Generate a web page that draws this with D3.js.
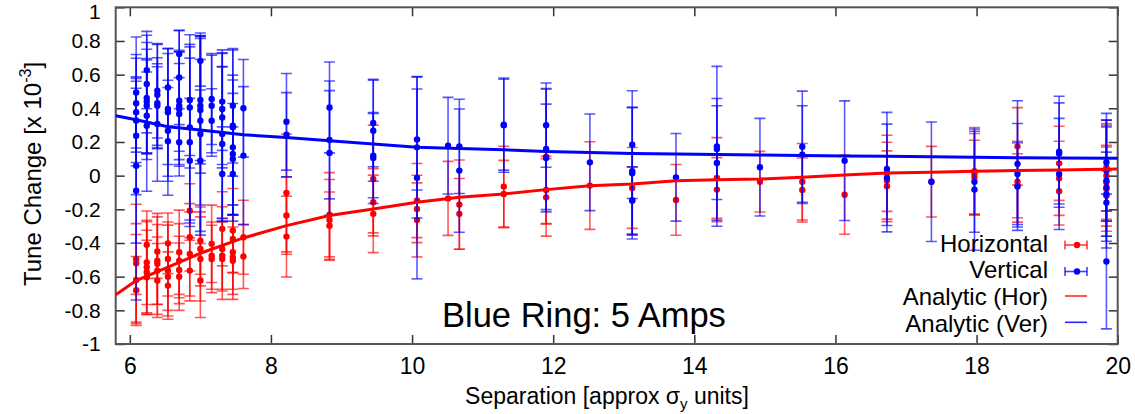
<!DOCTYPE html>
<html><head><meta charset="utf-8">
<script src="https://cdn.jsdelivr.net/npm/d3@7"></script>
<style>body{margin:0;background:#fff}text{font-family:"Liberation Sans",Arial,sans-serif;fill:#000}</style>
</head><body><svg id="c" width="1135" height="414"></svg>
<script>
// [x, value, error]  (x 10^-3)
const horPoints = [
[6.09,-0.495,0.21],[6.09,-0.52,0.35],[6.09,-0.62,0.27],[6.09,-0.68,0.2],
[6.24,-0.41,0.2],[6.24,-0.515,0.25],[6.24,-0.544,0.27],[6.24,-0.574,0.25],[6.24,-0.604,0.22],
[6.39,-0.45,0.16],[6.39,-0.505,0.26],[6.39,-0.524,0.3],[6.39,-0.564,0.2],[6.39,-0.623,0.22],
[6.54,-0.402,0.18],[6.54,-0.495,0.22],[6.54,-0.564,0.27],[6.54,-0.6,0.2],[6.54,-0.653,0.2],
[6.70,-0.455,0.25],[6.70,-0.505,0.22],[6.70,-0.56,0.2],[6.70,-0.6,0.2],
[6.85,-0.208,0.16],[6.85,-0.366,0.2],[6.85,-0.465,0.25],[6.85,-0.564,0.18],
[7.00,-0.386,0.2],[7.00,-0.435,0.22],[7.00,-0.495,0.25],[7.00,-0.623,0.22],
[7.16,-0.405,0.23],[7.16,-0.475,0.2],[7.16,-0.495,0.2],
[7.31,-0.316,0.22],[7.31,-0.435,0.25],[7.31,-0.475,0.2],[7.31,-0.495,0.24],
[7.46,-0.326,0.25],[7.46,-0.376,0.2],[7.46,-0.455,0.22],[7.46,-0.485,0.25],[7.46,-0.505,0.2],
[7.61,-0.366,0.22],[7.61,-0.48,0.19],
[8.22,-0.103,0.35],[8.22,-0.237,0.23],[8.22,-0.362,0.24],
[8.83,-0.232,0.25],[8.83,-0.263,0.24],[8.83,-0.297,0.2],
[9.45,-0.02,0.32],[9.45,-0.158,0.2],[9.45,-0.227,0.23],
[10.07,-0.148,0.22],[10.07,-0.198,0.2],[10.07,-0.263,0.22],
[10.51,-0.135,0.22],
[10.67,-0.172,0.265],[10.67,-0.227,0.21],
[11.30,-0.065,0.24],[11.30,-0.109,0.2],
[11.90,0.113,0.4],[11.90,-0.085,0.2],[11.90,-0.129,0.23],
[12.52,-0.059,0.26],
[13.12,-0.073,0.24],[13.12,-0.148,0.2],
[13.74,-0.144,0.21],
[14.32,-0.014,0.24],[14.32,-0.083,0.19],
[14.93,-0.036,0.18],
[15.53,-0.036,0.227],[15.53,-0.085,0.19],
[16.13,-0.113,0.235],
[16.73,0.014,0.226],[16.73,-0.03,0.228],[16.73,-0.063,0.21],
[17.36,-0.036,0.21],
[17.97,0.026,0.26],[17.97,0.01,0.24],[17.97,-0.01,0.22],
[18.58,0.174,0.23],[18.58,-0.036,0.24],[18.58,-0.06,0.19],
[19.17,0.073,0.22],[19.17,-0.016,0.22],[19.17,-0.093,0.2],
[19.84,0.05,0.26],[19.84,0.0,0.3],[19.84,-0.04,0.22],[19.84,-0.08,0.25],[19.84,-0.12,0.15]
];
const verPoints = [
[6.09,0.494,0.33],[6.09,0.43,0.29],[6.09,0.377,0.32],[6.09,0.328,0.25],[6.09,0.237,0.35],[6.09,0.059,0.46],[6.09,-0.089,0.65],
[6.24,0.627,0.23],[6.24,0.544,0.29],[6.24,0.461,0.33],[6.24,0.441,0.31],[6.24,0.415,0.28],[6.24,0.356,0.26],[6.24,0.297,0.39],
[6.39,0.504,0.28],[6.39,0.48,0.3],[6.39,0.43,0.27],[6.39,0.415,0.25],[6.39,0.307,0.34],
[6.54,0.524,0.23],[6.54,0.396,0.33],[6.54,0.376,0.38],[6.54,0.267,0.3],[6.54,0.204,0.32],
[6.70,0.722,0.14],[6.70,0.583,0.28],[6.70,0.445,0.3],[6.70,0.415,0.32],[6.70,0.396,0.34],[6.70,0.366,0.3],[6.70,0.198,0.2],
[6.85,0.45,0.33],[6.85,0.405,0.36],[6.85,0.287,0.55],[6.85,0.198,0.5],[6.85,0.089,0.37],
[7.00,0.682,0.15],[7.00,0.45,0.38],[7.00,0.415,0.4],[7.00,0.39,0.3],[7.00,0.326,0.5],[7.00,0.247,0.6],[7.00,0.089,0.42],
[7.16,0.455,0.27],[7.16,0.415,0.3],[7.16,0.326,0.19],
[7.31,0.44,0.29],[7.31,0.396,0.33],[7.31,0.346,0.3],[7.31,0.247,0.5],[7.31,0.188,0.46],[7.31,0.01,0.28],
[7.46,0.415,0.34],[7.46,0.297,0.3],[7.46,0.287,0.46],[7.46,0.168,0.4],[7.46,0.129,0.36],[7.46,0.099,0.33],[7.46,0.01,0.28],
[7.61,0.40,0.29],[7.61,0.119,0.41],
[8.22,0.32,0.287],[8.22,0.243,0.25],
[8.83,0.405,0.27],[8.83,0.212,0.35],[8.83,0.135,0.37],
[9.45,0.313,0.26],[9.45,0.267,0.3],[9.45,0.119,0.25],[9.45,0.105,0.27],
[10.07,0.215,0.3],[10.07,0.168,0.42],[10.07,-0.013,0.6],
[10.51,0.178,0.287],
[10.67,0.174,0.28],[10.67,0.03,0.366],
[11.30,0.303,0.27],[11.30,0.30,0.28],
[11.90,0.30,0.25],[11.90,0.158,0.36],[11.90,0.105,0.32],
[12.52,0.079,0.287],
[13.12,0.184,0.32],[13.12,0.026,0.38],[13.12,0.014,0.39],[13.12,-0.148,0.2],
[13.74,-0.01,0.26],
[14.32,0.174,0.475],[14.32,0.158,0.3],[14.32,0.075,0.34],
[14.93,0.05,0.29],
[15.53,0.172,0.33],[15.53,0.125,0.29],
[16.13,0.089,0.355],
[16.73,0.04,0.336],[16.73,-0.014,0.32],
[17.36,-0.036,0.355],
[17.97,-0.036,0.3],[17.97,-0.083,0.36],
[18.58,0.07,0.375],[18.58,0.01,0.3],[18.58,-0.065,0.26],
[19.17,0.142,0.33],[19.17,0.132,0.3],[19.17,0.01,0.33],
[19.84,0.08,0.29],[19.84,0.03,0.3],[19.84,-0.03,0.36],[19.84,-0.07,0.36],[19.84,-0.11,0.25],[19.84,-0.16,0.2],[19.84,-0.51,0.4]
];
const anaX   = [5.8,6.09,6.54,7.0,7.61,8.22,8.83,9.45,10.07,10.67,11.30,11.90,12.52,13.12,13.74,14.32,14.93,15.53,16.13,16.73,17.36,17.97,18.58,19.17,20.0];
const anaHor = [-0.708,-0.623,-0.544,-0.461,-0.37,-0.297,-0.237,-0.198,-0.158,-0.129,-0.109,-0.083,-0.06,-0.049,-0.03,-0.024,-0.02,-0.01,0.004,0.016,0.02,0.026,0.03,0.034,0.04];
const anaVer = [0.356,0.332,0.29,0.271,0.243,0.227,0.208,0.188,0.168,0.162,0.154,0.144,0.138,0.132,0.129,0.125,0.123,0.12,0.117,0.115,0.113,0.11,0.107,0.105,0.103];
const xTicks = [6,8,10,12,14,16,18,20];
const yTicks = [-1,-0.8,-0.6,-0.4,-0.2,0,0.2,0.4,0.6,0.8,1];
const legendLabels = ["Horizontal","Vertical","Analytic (Hor)","Analytic (Ver)"];
const RED = "#ff0000", BLUE = "#0000ff";

const svg = d3.select("#c");
const L = 115.7, R = 1117.7, T = 7.3, B = 344;
const x = d3.scaleLinear().domain([5.8,20]).range([L,R]);
const y = d3.scaleLinear().domain([-1,1]).range([B,T]);

// axes (inward ticks, mirrored)
const fmt = d => String(+d.toFixed(1));
const gB = svg.append("g").attr("transform",`translate(0,${B})`)
  .call(d3.axisBottom(x).tickValues(xTicks).tickSize(-9).tickPadding(14).tickFormat(d=>String(d)));
const gT = svg.append("g").attr("transform",`translate(0,${T})`)
  .call(d3.axisTop(x).tickValues(xTicks).tickSize(-9).tickFormat(""));
const gL = svg.append("g").attr("transform",`translate(${L},0)`)
  .call(d3.axisLeft(y).tickValues(yTicks).tickSize(-9).tickPadding(15).tickFormat(fmt));
const gR = svg.append("g").attr("transform",`translate(${R},0)`)
  .call(d3.axisRight(y).tickValues(yTicks).tickSize(-9).tickFormat(""));
[gB,gT,gL,gR].forEach(g=>{
  g.select(".domain").remove();
  g.selectAll(".tick line").attr("stroke","#333").attr("stroke-width",1.5);
});
gB.selectAll(".tick text").attr("font-size",23).attr("font-family","Liberation Sans, Arial, sans-serif").attr("fill","#000");
gL.selectAll(".tick text").attr("font-size",21).attr("font-family","Liberation Sans, Arial, sans-serif").attr("fill","#000");
gL.selectAll(".tick text").filter(d=>d===1).attr("dy","0.52em");
svg.append("rect").attr("x",L).attr("y",T).attr("width",R-L).attr("height",B-T)
  .attr("fill","none").attr("stroke","#555").attr("stroke-width",2);

const clip = svg.append("defs").append("clipPath").attr("id","cp")
  .append("rect").attr("x",L).attr("y",T).attr("width",R-L).attr("height",B-T);
const plot = svg.append("g").attr("clip-path","url(#cp)");

function drawSeries(data,color){
  const g = plot.append("g");
  const cap = 5.5;
  data.forEach(([px,v,e])=>{
    const cx = x(px), y1 = y(v+e), y2 = y(v-e);
    g.append("line").attr("x1",cx).attr("x2",cx).attr("y1",y1).attr("y2",y2)
      .attr("stroke",color).attr("stroke-width",1.6).attr("stroke-opacity",0.65);
    [y1,y2].forEach(yy=>g.append("line").attr("x1",cx-cap).attr("x2",cx+cap).attr("y1",yy).attr("y2",yy)
      .attr("stroke",color).attr("stroke-width",1.6).attr("stroke-opacity",0.65));
  });
  g.selectAll("circle").data(data).join("circle")
    .attr("cx",d=>x(d[0])).attr("cy",d=>y(d[1])).attr("r",3.2).attr("fill",color);
}
drawSeries(horPoints,RED);
drawSeries(verPoints,BLUE);

const line = vals => d3.line().x((d,i)=>x(anaX[i])).y(d=>y(d))(vals);
plot.append("path").attr("d",line(anaHor)).attr("fill","none").attr("stroke",RED).attr("stroke-width",3);
plot.append("path").attr("d",line(anaVer)).attr("fill","none").attr("stroke",BLUE).attr("stroke-width",3);

// axis titles
const yt = svg.append("text").attr("transform","translate(41,174) rotate(-90)")
  .attr("text-anchor","middle").attr("font-size",24);
yt.append("tspan").text("Tune Change [x 10");
yt.append("tspan").attr("dy",-10).attr("font-size",16).text("-3");
yt.append("tspan").attr("dy",10).text("]");

const xt = svg.append("text").attr("x",607).attr("y",404).attr("text-anchor","middle").attr("font-size",23);
xt.append("tspan").text("Separation [approx \u03c3");
xt.append("tspan").attr("dy",5).attr("font-size",15).text("y");
xt.append("tspan").attr("dy",-5).text(" units]");

svg.append("text").attr("x",442).attr("y",327).attr("font-size",34.5).text("Blue Ring: 5 Amps");

// legend
const lgBase = [252,278,305,331.5], lgMid = [245,271.5,296,322.3];
const lg = svg.append("g");
legendLabels.forEach((t,i)=>{
  lg.append("text").attr("x",1048).attr("y",lgBase[i]).attr("text-anchor","end").attr("font-size",24).text(t);
  const c = (i%2===0)?RED:BLUE, ym = lgMid[i];
  lg.append("line").attr("x1",1065).attr("x2",1087).attr("y1",ym).attr("y2",ym).attr("stroke",c).attr("stroke-width",1.6).attr("stroke-opacity",i<2?0.75:0.85);
  if(i<2){
    [1065,1087].forEach(xx=>lg.append("line").attr("x1",xx).attr("x2",xx).attr("y1",ym-4.5).attr("y2",ym+4.5).attr("stroke",c).attr("stroke-width",1.6).attr("stroke-opacity",0.75));
    lg.append("circle").attr("cx",1077).attr("cy",ym).attr("r",3.2).attr("fill",c);
  }
});
</script></body></html>
